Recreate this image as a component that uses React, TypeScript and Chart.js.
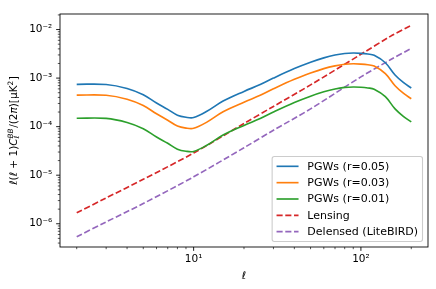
import { useEffect, useRef } from 'react';
import { Chart, registerables } from 'chart.js';

Chart.register(...registerables);

// ---------- data ----------
const ells = [2, 3, 4, 5, 6, 7, 8, 9, 10, 12, 15, 20, 25, 30, 40, 50, 60, 70, 80, 90, 100, 110, 120, 140, 160, 180, 200];
const pgwR005 = [7.45e-4, 7.38e-4, 6.11e-4, 4.53e-4, 3.06e-4, 2.27e-4, 1.72e-4, 1.56e-4, 1.54e-4, 2.07e-4, 3.36e-4, 5.32e-4, 7.35e-4, 1.0e-3, 1.57e-3, 2.12e-3, 2.61e-3, 2.99e-3, 3.21e-3, 3.28e-3, 3.24e-3, 3.13e-3, 2.95e-3, 2.07e-3, 1.16e-3, 8.05e-4, 6.25e-4];
const pgwR003 = [4.47e-4, 4.43e-4, 3.67e-4, 2.72e-4, 1.84e-4, 1.36e-4, 1.03e-4, 9.34e-5, 9.24e-5, 1.24e-4, 2.02e-4, 3.19e-4, 4.41e-4, 6.0e-4, 9.42e-4, 1.27e-3, 1.57e-3, 1.79e-3, 1.93e-3, 1.97e-3, 1.94e-3, 1.88e-3, 1.77e-3, 1.24e-3, 6.96e-4, 4.83e-4, 3.75e-4];
const pgwR001 = [1.49e-4, 1.48e-4, 1.22e-4, 9.06e-5, 6.12e-5, 4.54e-5, 3.44e-5, 3.11e-5, 3.08e-5, 4.14e-5, 6.72e-5, 1.06e-4, 1.47e-4, 2.0e-4, 3.14e-4, 4.24e-4, 5.22e-4, 5.98e-4, 6.42e-4, 6.56e-4, 6.48e-4, 6.26e-4, 5.9e-4, 4.14e-4, 2.32e-4, 1.61e-4, 1.25e-4];

const lensEll = [2, 3, 5, 10, 20, 30, 50, 100, 150, 200];
const lensing = [1.68e-6, 3.4e-6, 8.24e-6, 2.86e-5, 1.16e-4, 2.61e-4, 7.24e-4, 3.09e-3, 7.24e-3, 1.22e-2];
const delensed = [5.4e-7, 1.09e-6, 2.61e-6, 9.25e-6, 3.68e-5, 8.43e-5, 2.32e-4, 1.06e-3, 2.38e-3, 4.09e-3];

const seriesLabels = ['PGWs (r=0.05)', 'PGWs (r=0.03)', 'PGWs (r=0.01)', 'Lensing', 'Delensed (LiteBIRD)'];
const seriesColors = ['#1f77b4', '#ff7f0e', '#2ca02c', '#d62728', '#9467bd'];

const xLimits = [1.589, 251.8];
const yLimits = [3.32e-7, 2.09e-2];
const xTickExps = [0, 1, 2];
const yTickExps = [-7, -6, -5, -4, -3, -2];
const tickMultiples = [1, 2, 3, 4, 5, 6, 7, 8, 9];

// ---------- helpers ----------
const SUP: Record<string, string> = { '-': '⁻', '0': '⁰', '1': '¹', '2': '²', '3': '³', '4': '⁴', '5': '⁵', '6': '⁶', '7': '⁷', '8': '⁸', '9': '⁹' };
const isPow10 = (v: number) => Math.abs(Math.log10(v) - Math.round(Math.log10(v))) < 1e-9;
const powLabel = (v: number) => {
  if (!isPow10(v)) return '';
  const e = String(Math.round(Math.log10(v)));
  return '10' + e.split('').map((c) => SUP[c] ?? c).join('');
};
const makeTicks = (exps: number[], min: number, max: number) => {
  const out: { value: number }[] = [];
  for (const e of exps) for (const m of tickMultiples) {
    const v = m * Math.pow(10, e);
    if (v >= min && v <= max) out.push({ value: v });
  }
  return out;
};

const FONT = '"DejaVu Sans"';
const PXPT = 1.1;

const axesPlugin = {
  id: 'mplAxes',
  afterDatasetsDraw(chart: any) {
    const { ctx, chartArea: ca, scales } = chart;
    ctx.save();
    ctx.strokeStyle = '#000';
    for (const t of scales.x.ticks) {
      const major = isPow10(t.value);
      const px = scales.x.getPixelForValue(t.value);
      ctx.lineWidth = major ? 0.8 * PXPT : 0.6 * PXPT;
      const len = major ? 3.5 * PXPT : 2 * PXPT;
      ctx.beginPath(); ctx.moveTo(px, ca.bottom); ctx.lineTo(px, ca.bottom + len); ctx.stroke();
    }
    for (const t of scales.y.ticks) {
      const major = isPow10(t.value);
      const py = scales.y.getPixelForValue(t.value);
      ctx.lineWidth = major ? 0.8 * PXPT : 0.6 * PXPT;
      const len = major ? 3.5 * PXPT : 2 * PXPT;
      ctx.beginPath(); ctx.moveTo(ca.left, py); ctx.lineTo(ca.left - len, py); ctx.stroke();
    }
    ctx.lineWidth = 0.8 * PXPT;
    ctx.strokeRect(ca.left, ca.top, ca.right - ca.left, ca.bottom - ca.top);
    ctx.restore();
  },
  afterDraw(chart: any) {
    const { ctx, chartArea: ca } = chart;
    const fs = 10.5;
    ctx.save();
    ctx.fillStyle = '#000';
    // x title
    ctx.font = `italic ${fs}px ${FONT}`;
    ctx.textAlign = 'center';
    ctx.textBaseline = 'alphabetic';
    ctx.fillText('ℓ', (ca.left + ca.right) / 2, 279);
    // y title (mathtext-like)
    type Part = { t?: string; it?: boolean; sub?: string; sup?: string };
    const parts: Part[] = [
      { t: 'ℓ', it: true }, { t: '(' }, { t: 'ℓ', it: true }, { t: ' + 1)' }, { t: 'C', it: true },
      { sub: 'ℓ', sup: 'BB' }, { t: '/(2' }, { t: 'π', it: true }, { t: ')[μK' }, { sup: '2' }, { t: ']' },
    ];
    const sfs = fs * 0.7;
    const fnt = (it: boolean | undefined, s: number) => `${it ? 'italic ' : ''}${s}px ${FONT}`;
    const widths = parts.map((p) => {
      if (p.t !== undefined) { ctx.font = fnt(p.it, fs); return ctx.measureText(p.t).width; }
      let w = 0;
      if (p.sub) { ctx.font = fnt(true, sfs); w = Math.max(w, ctx.measureText(p.sub).width); }
      if (p.sup) { ctx.font = fnt(p.sup !== '2', sfs); w = Math.max(w, ctx.measureText(p.sup).width); }
      return w + 0.5;
    });
    const total = widths.reduce((a, b) => a + b, 0);
    ctx.translate(17, (ca.top + ca.bottom) / 2);
    ctx.rotate(-Math.PI / 2);
    ctx.textAlign = 'left';
    let x = -total / 2;
    parts.forEach((p, i) => {
      if (p.t !== undefined) {
        ctx.font = fnt(p.it, fs); ctx.fillText(p.t, x, 0);
      } else {
        if (p.sub) { ctx.font = fnt(true, sfs); ctx.fillText(p.sub, x, fs * 0.22); }
        if (p.sup) { ctx.font = fnt(p.sup !== '2', sfs); ctx.fillText(p.sup, x, -fs * 0.42); }
      }
      x += widths[i];
    });
    ctx.restore();

    // legend
    const lfs = 11;
    ctx.save();
    ctx.font = `${lfs}px ${FONT}`;
    const ds = chart.data.datasets;
    const tw = Math.max(...ds.map((d: any) => ctx.measureText(d.label).width));
    const bp = 0.4 * lfs, hl = 2 * lfs, htp = 0.8 * lfs, ls = 0.5 * lfs, rowH = 10.84;
    const w = bp + hl + htp + tw + bp;
    const h = 2 * bp + ds.length * rowH + (ds.length - 1) * ls;
    const right = ca.right - 0.5 * lfs;
    const bottom = ca.bottom - 0.5 * lfs;
    const left = right - w, top = bottom - h;
    const r = 0.2 * lfs;
    ctx.beginPath();
    ctx.moveTo(left + r, top);
    ctx.lineTo(right - r, top); ctx.quadraticCurveTo(right, top, right, top + r);
    ctx.lineTo(right, bottom - r); ctx.quadraticCurveTo(right, bottom, right - r, bottom);
    ctx.lineTo(left + r, bottom); ctx.quadraticCurveTo(left, bottom, left, bottom - r);
    ctx.lineTo(left, top + r); ctx.quadraticCurveTo(left, top, left + r, top);
    ctx.closePath();
    ctx.fillStyle = 'rgba(255,255,255,0.8)';
    ctx.fill();
    ctx.strokeStyle = '#cccccc';
    ctx.lineWidth = 1.0 * PXPT;
    ctx.stroke();
    ds.forEach((d: any, i: number) => {
      const cy = top + bp + rowH / 2 + i * (rowH + ls);
      ctx.strokeStyle = d.borderColor;
      ctx.lineWidth = d.borderWidth;
      ctx.setLineDash(d.borderDash || []);
      ctx.beginPath(); ctx.moveTo(left + bp, cy); ctx.lineTo(left + bp + hl, cy); ctx.stroke();
      ctx.setLineDash([]);
      ctx.fillStyle = '#000';
      ctx.textAlign = 'left';
      ctx.textBaseline = 'middle';
      ctx.fillText(d.label, left + bp + hl + htp, cy + 0.5);
    });
    ctx.restore();
  },
};

export default function App() {
  const ref = useRef<HTMLCanvasElement | null>(null);
  useEffect(() => {
    document.body.style.margin = '0';
    const canvas = ref.current;
    if (!canvas) return;
    const lw = 1.5 * PXPT;
    const dash = [3.7 * 1.5 * PXPT, 1.6 * 1.5 * PXPT];
    const pgw = [pgwR005, pgwR003, pgwR001];
    const datasets: any[] = pgw.map((vals, k) => ({
      label: seriesLabels[k],
      data: ells.map((l, i) => ({ x: l, y: vals[i] })),
      borderColor: seriesColors[k],
      borderWidth: lw,
      pointRadius: 0,
      fill: false,
      tension: 0.35,
    }));
    [lensing, delensed].forEach((vals, j) => {
      const k = 3 + j;
      datasets.push({
        label: seriesLabels[k],
        data: lensEll.map((l, i) => ({ x: l, y: vals[i] })),
        borderColor: seriesColors[k],
        borderWidth: lw,
        borderDash: dash,
        pointRadius: 0,
        fill: false,
        tension: 0.3,
      });
    });
    const tickFont = { family: FONT, size: 10.5 };
    const chart = new Chart(canvas, {
      type: 'line',
      data: { datasets },
      plugins: [axesPlugin],
      options: {
        animation: false,
        responsive: false,
        devicePixelRatio: 1,
        layout: { padding: { top: 8, right: 8, left: 0, bottom: 0 } },
        plugins: { legend: { display: false }, tooltip: { enabled: false }, title: { display: false } },
        scales: {
          x: {
            type: 'logarithmic',
            min: xLimits[0],
            max: xLimits[1],
            bounds: 'data',
            grid: { display: false, drawTicks: false },
            border: { display: false },
            afterBuildTicks: (s: any) => { s.ticks = makeTicks(xTickExps, s.min, s.max); },
            afterFit: (s: any) => { s.height = 42; },
            ticks: { autoSkip: false, maxRotation: 0, padding: 6, color: '#000', font: tickFont, callback: (v: any) => powLabel(Number(v)) },
          },
          y: {
            type: 'logarithmic',
            min: yLimits[0],
            max: yLimits[1],
            bounds: 'data',
            grid: { display: false, drawTicks: false },
            border: { display: false },
            afterBuildTicks: (s: any) => { s.ticks = makeTicks(yTickExps, s.min, s.max); },
            afterFit: (s: any) => { s.width = 60; },
            ticks: { autoSkip: false, padding: 7.7, color: '#000', font: tickFont, callback: (v: any) => powLabel(Number(v)) },
          },
        },
      } as any,
    });
    return () => chart.destroy();
  }, []);
  return (
    <div style={{ position: 'fixed', left: 0, top: 0, width: 436, height: 289, background: '#fff' }}>
      <canvas ref={ref} width={436} height={289} style={{ display: 'block' }} />
    </div>
  );
}
